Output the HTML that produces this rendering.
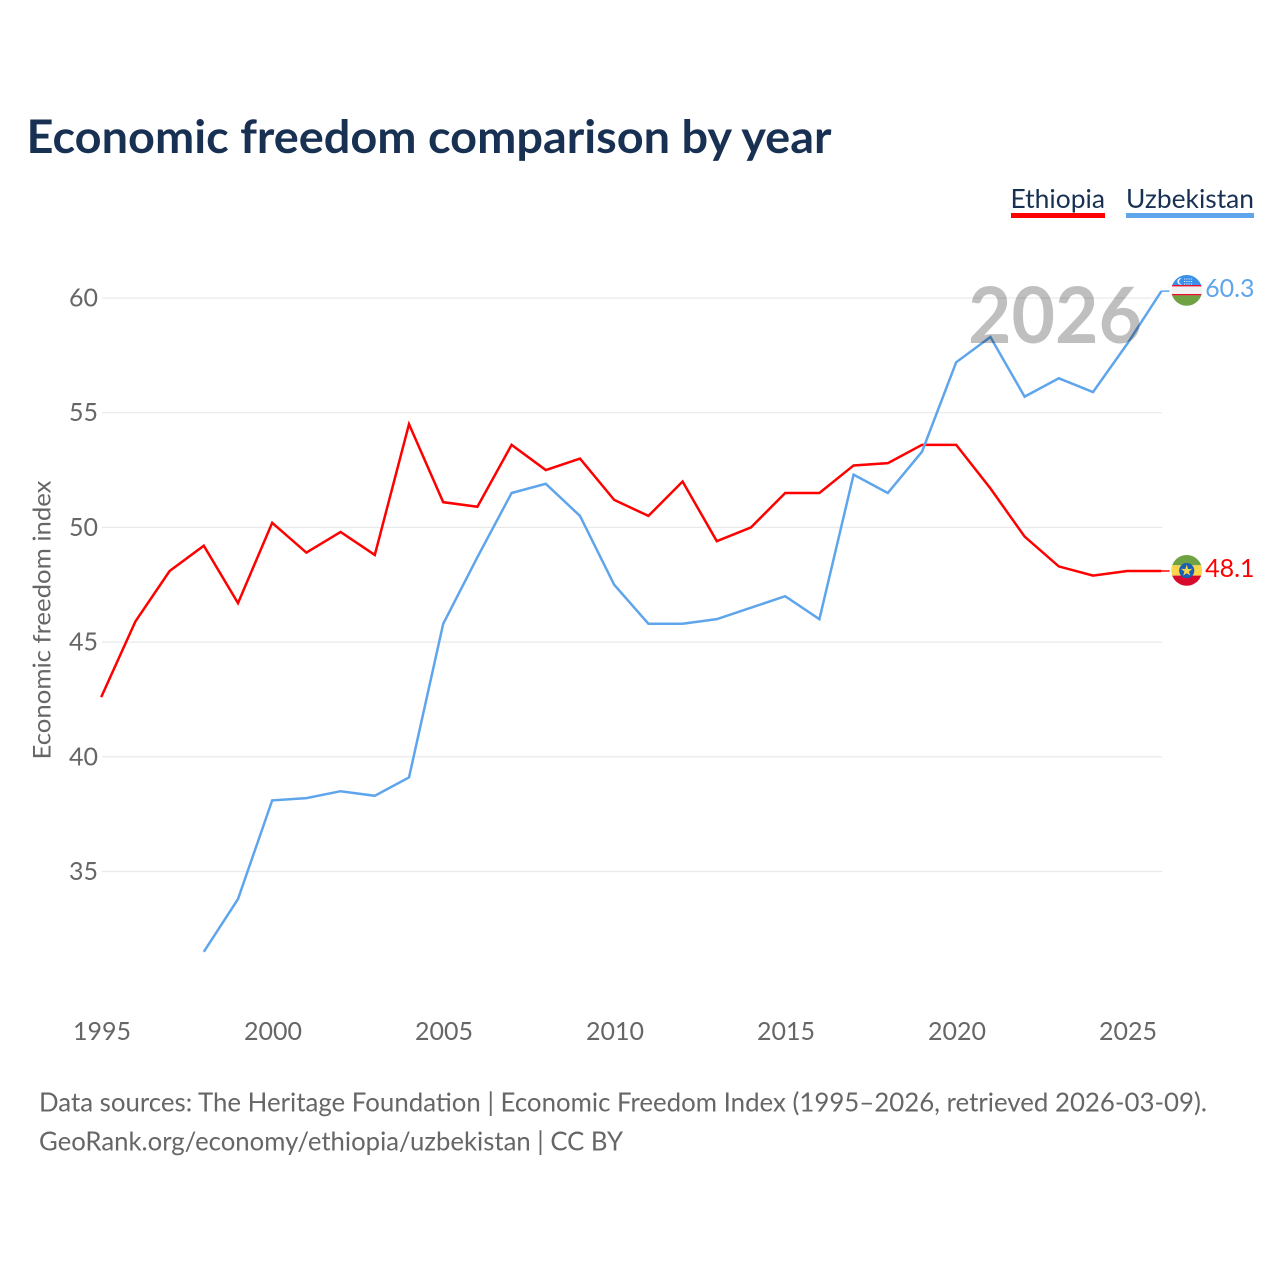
<!DOCTYPE html>
<html lang="en">
<head>
<meta charset="utf-8">
<title>Economic freedom comparison by year</title>
<style>
html,body{margin:0;padding:0;background:#fff;width:1280px;height:1280px;overflow:hidden}
svg{display:block}
text{font-family:"Lato","Carlito","Liberation Sans",sans-serif}
</style>
</head>
<body>
<svg id="chart" xmlns="http://www.w3.org/2000/svg" width="1280" height="1280" viewBox="0 0 1280 1280">
  <defs>
    <clipPath id="clip-uz"><circle cx="1186.7" cy="290.4" r="15.4"/></clipPath>
    <clipPath id="clip-et"><circle cx="1186.7" cy="570.4" r="15.4"/></clipPath>
  </defs>
  <rect x="0" y="0" width="1280" height="1280" fill="#fff"/>
  <text x="26.5" y="153" font-size="46" font-weight="700" fill="#183153" textLength="805" lengthAdjust="spacingAndGlyphs">Economic freedom comparison by year</text>

  <g>
    <g>
      <text x="1010.5" y="208" font-size="26" fill="#183153" textLength="94.5" lengthAdjust="spacingAndGlyphs">Ethiopia</text>
      <rect x="1011" y="213" width="94" height="5" fill="#ff0000"/>
    </g>
    <g>
      <text x="1126" y="208" font-size="26" fill="#183153" textLength="128" lengthAdjust="spacingAndGlyphs">Uzbekistan</text>
      <rect x="1126" y="213" width="128" height="5" fill="#5fa5ec"/>
    </g>
  </g>

  <g id="grid"></g>
  <g id="y-ticks"></g>
  <g id="x-ticks"></g>
  <text transform="translate(50.5,759.5) rotate(-90)" font-size="24.5" fill="#666" textLength="279" lengthAdjust="spacingAndGlyphs">Economic freedom index</text>

  <g id="series"></g>

  <text id="year-label" x="968" y="343" font-size="78" font-weight="700" fill="#000" fill-opacity="0.25" textLength="174" lengthAdjust="spacingAndGlyphs">2026</text>

  <g clip-path="url(#clip-uz)">
    <rect x="1171" y="275" width="32" height="10.5" fill="#3b8fe8"/>
    <rect x="1171" y="285.5" width="32" height="9.5" fill="#f1f1f1"/>
    <rect x="1171" y="285" width="32" height="1.4" fill="#e8112d"/>
    <rect x="1171" y="294" width="32" height="1.4" fill="#e8112d"/>
    <rect x="1171" y="295.4" width="32" height="11" fill="#6ea243"/>
    <circle cx="1180.5" cy="281.5" r="3.2" fill="#eaf3fc"/>
    <circle cx="1182" cy="281.5" r="2.9" fill="#3b8fe8"/>
    <path d="M1184 279h9M1184 281.5h9M1184 284h9" stroke="#dbe9fa" stroke-width="1.1" stroke-dasharray="1.2 1.1" fill="none"/>
  </g>
  <g clip-path="url(#clip-et)">
    <rect x="1171" y="555" width="32" height="10.3" fill="#6ea243"/>
    <rect x="1171" y="565.3" width="32" height="10.3" fill="#fbd54b"/>
    <rect x="1171" y="575.6" width="32" height="11" fill="#d8092c"/>
    <circle cx="1186.7" cy="570.6" r="7.6" fill="#1a5fb4"/>
    <polygon points="1186.7,564.6 1188.1,569.1 1192.4,568.8 1189,571.6 1190.2,575.5 1186.7,573.2 1183.2,575.5 1184.4,571.6 1181,568.8 1185.3,569.1" fill="#f4d64a"/>
  </g>
  <g id="end-labels"></g>

  <text x="39" y="1111.6" font-size="26" fill="#666" textLength="1168" lengthAdjust="spacingAndGlyphs">Data sources: The Heritage Foundation | Economic Freedom Index (1995–2026, retrieved 2026-03-09).</text>
  <text x="39" y="1150.6" font-size="26" fill="#666" textLength="584" lengthAdjust="spacingAndGlyphs">GeoRank.org/economy/ethiopia/uzbekistan | CC BY</text>
</svg>
<script>
const years = [1995,1996,1997,1998,1999,2000,2001,2002,2003,2004,2005,2006,2007,2008,2009,2010,2011,2012,2013,2014,2015,2016,2017,2018,2019,2020,2021,2022,2023,2024,2025,2026];
const ethiopia = [42.6,45.9,48.1,49.2,46.7,50.2,48.9,49.8,48.8,54.5,51.1,50.9,53.6,52.5,53.0,51.2,50.5,52.0,49.4,50.0,51.5,51.5,52.7,52.8,53.6,53.6,51.7,49.6,48.3,47.9,48.1,48.1];
const uzbekistan = [null,null,null,31.5,33.8,38.1,38.2,38.5,38.3,39.1,45.8,48.7,51.5,51.9,50.5,47.5,45.8,45.8,46.0,46.5,47.0,46.0,52.3,51.5,53.3,57.2,58.3,55.7,56.5,55.9,58.0,60.3];
const yTickValues = [35,40,45,50,55,60];
const xTickValues = [1995,2000,2005,2010,2015,2020,2025];

const NS = 'http://www.w3.org/2000/svg';
function xScale(year){ return 101.2 + (year - 1995) * 34.2; }
function yScale(value){ return 298 + (60 - value) * 22.94; }
function make(tag, parent){
  const el = document.createElementNS(NS, tag);
  parent.appendChild(el);
  return el;
}

const grid = document.getElementById('grid');
const yTicks = document.getElementById('y-ticks');
const xTicks = document.getElementById('x-ticks');
const series = document.getElementById('series');
const endLabels = document.getElementById('end-labels');

yTickValues.forEach(function(v){
  const line = make('line', grid);
  
  
  line.setAttribute('x1', 102);
  line.setAttribute('x2', 1162);
  line.setAttribute('y1', yScale(v));
  line.setAttribute('y2', yScale(v));
  line.setAttribute('stroke', '#e9e9e9');
  line.setAttribute('stroke-width', 1.2);
  const t = make('text', yTicks);
  
  
  t.setAttribute('x', 98);
  t.setAttribute('y', yScale(v) + 8.5);
  t.setAttribute('text-anchor', 'end');
  t.setAttribute('font-size', 25);
  t.setAttribute('fill', '#666');
  t.textContent = v;
});

xTickValues.forEach(function(y){
  const t = make('text', xTicks);
  
  
  t.setAttribute('x', xScale(y) + 0.8);
  t.setAttribute('y', 1040);
  t.setAttribute('text-anchor', 'middle');
  t.setAttribute('font-size', 25);
  t.setAttribute('fill', '#666');
  t.textContent = y;
});

function pathFor(values){
  let d = '';
  values.forEach(function(v, i){
    if (v === null) return;
    d += (d ? 'L' : 'M') + xScale(years[i]).toFixed(2) + ' ' + yScale(v).toFixed(2);
  });
  return d;
}

const ethLine = make('path', series);


ethLine.setAttribute('d', pathFor(ethiopia));
ethLine.setAttribute('fill', 'none');
ethLine.setAttribute('stroke', '#ff0000');
ethLine.setAttribute('stroke-width', 2.5);

const uzbLine = make('path', series);


uzbLine.setAttribute('d', pathFor(uzbekistan));
uzbLine.setAttribute('fill', 'none');
uzbLine.setAttribute('stroke', '#5fa5ec');
uzbLine.setAttribute('stroke-width', 2.5);

const ethConnector = make('line', series);


ethConnector.setAttribute('x1', xScale(2026));
ethConnector.setAttribute('x2', 1169.5);
ethConnector.setAttribute('y1', yScale(ethiopia[ethiopia.length - 1]));
ethConnector.setAttribute('y2', yScale(ethiopia[ethiopia.length - 1]));
ethConnector.setAttribute('stroke', '#ff0000');
ethConnector.setAttribute('stroke-width', 1.5);

const uzbConnector = make('line', series);


uzbConnector.setAttribute('x1', xScale(2026));
uzbConnector.setAttribute('x2', 1169.5);
uzbConnector.setAttribute('y1', yScale(uzbekistan[uzbekistan.length - 1]));
uzbConnector.setAttribute('y2', yScale(uzbekistan[uzbekistan.length - 1]));
uzbConnector.setAttribute('stroke', '#5fa5ec');
uzbConnector.setAttribute('stroke-width', 1.5);

const ethEnd = make('text', endLabels);


ethEnd.setAttribute('x', 1254.5);
ethEnd.setAttribute('y', yScale(ethiopia[ethiopia.length - 1]) + 6);
ethEnd.setAttribute('text-anchor', 'end');
ethEnd.setAttribute('font-size', 25);
ethEnd.setAttribute('fill', '#ff0000');
ethEnd.textContent = ethiopia[ethiopia.length - 1].toFixed(1);

const uzbEnd = make('text', endLabels);


uzbEnd.setAttribute('x', 1254.5);
uzbEnd.setAttribute('y', yScale(uzbekistan[uzbekistan.length - 1]) + 6);
uzbEnd.setAttribute('text-anchor', 'end');
uzbEnd.setAttribute('font-size', 25);
uzbEnd.setAttribute('fill', '#5fa5ec');
uzbEnd.textContent = uzbekistan[uzbekistan.length - 1].toFixed(1);
</script>
</body>
</html>
